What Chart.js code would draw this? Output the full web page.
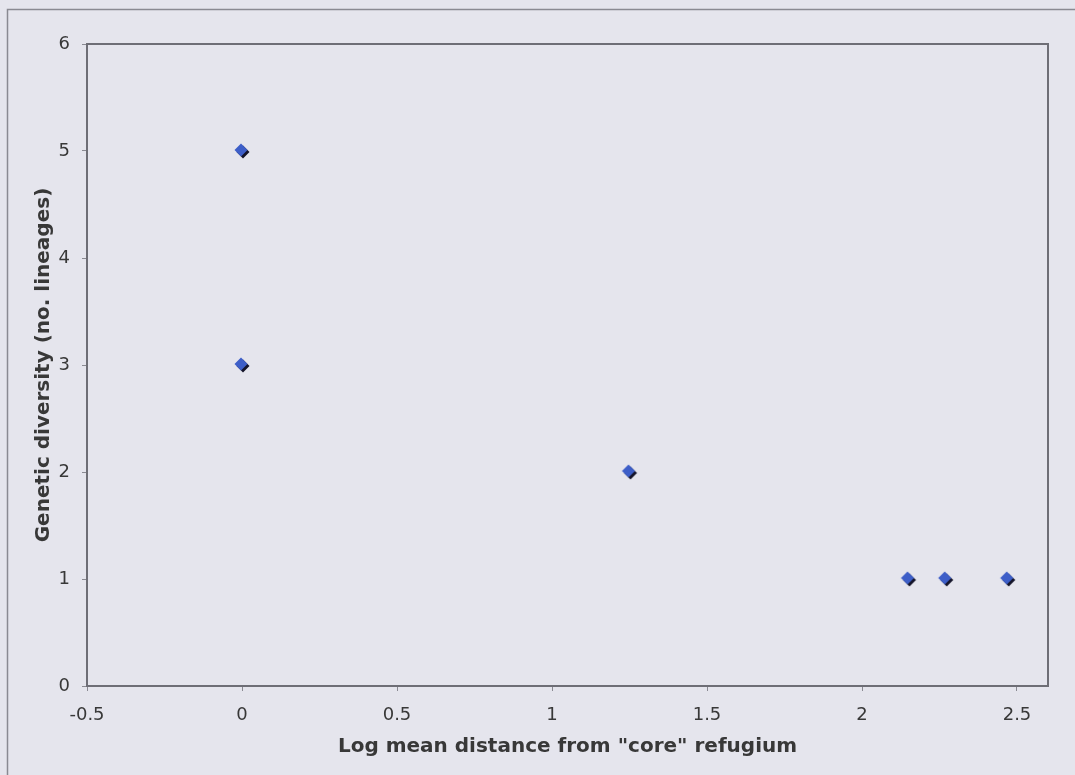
<!DOCTYPE html>
<html>
<head>
<meta charset="utf-8">
<script src="https://cdn.jsdelivr.net/npm/chart.js@4.4.1/dist/chart.umd.min.js"></script>
<style>
  html, body { margin: 0; padding: 0; background: #e5e5ed; }
  #wrap { width: 1075px; height: 775px; position: relative; }
</style>
</head>
<body>
<div id="wrap"><canvas id="c" width="1075" height="775"></canvas></div>
<script>
// Log mean distance from the core refugium vs. number of lineages
const logDistance = [0, 0, 1.25, 2.15, 2.27, 2.47];
const lineages    = [5, 3, 2, 1, 1, 1];
const xTickValues = [-0.5, 0, 0.5, 1, 1.5, 2, 2.5];
const yTickValues = [0, 1, 2, 3, 4, 5, 6];

const BG = '#e5e5ed';
const FONT = '"DejaVu Sans", Verdana, sans-serif';

// Diamond marker with a dark drop edge on the lower right
function makeMarker() {
  const c = document.createElement('canvas');
  c.width = 18; c.height = 18;
  const g = c.getContext('2d');
  function diamond(cx, cy, r, fill) {
    g.beginPath();
    g.moveTo(cx, cy - r);
    g.lineTo(cx + r, cy);
    g.lineTo(cx, cy + r);
    g.lineTo(cx - r, cy);
    g.closePath();
    g.fillStyle = fill;
    g.fill();
  }
  diamond(10, 10, 6.5, '#14142a');
  diamond(8, 8, 6.5, '#3d5ec8');
  return c;
}

const points = logDistance.map((x, i) => ({ x: x, y: lineages[i] }));

const framePlugin = {
  id: 'frame',
  beforeDraw(chart) {
    const ctx = chart.ctx;
    ctx.save();
    ctx.fillStyle = BG;
    ctx.fillRect(0, 0, chart.width, chart.height);
    ctx.strokeStyle = '#8a8a92';
    ctx.lineWidth = 1.5;
    ctx.strokeRect(7.5, 9.5, chart.width + 20, chart.height + 20);
    ctx.restore();
  },
  afterDatasetsDraw(chart) {
    const a = chart.chartArea;
    const ctx = chart.ctx;
    ctx.save();
    ctx.strokeStyle = '#6e6e76';
    ctx.lineWidth = 2;
    ctx.strokeRect(a.left, a.top, a.right - a.left, a.bottom - a.top);
    ctx.restore();
  }
};

const fmt = v => String(v);

new Chart(document.getElementById('c'), {
  type: 'scatter',
  data: {
    datasets: [{
      data: points,
      pointStyle: makeMarker(),
      pointRadius: 7,
      pointHoverRadius: 7
    }]
  },
  options: {
    responsive: false,
    animation: false,
    devicePixelRatio: 1,
    layout: { padding: { left: 32, top: 44, right: 27, bottom: 16 } },
    plugins: {
      legend: { display: false },
      tooltip: { enabled: false }
    },
    scales: {
      x: {
        type: 'linear',
        min: -0.5,
        max: 2.6,
        afterBuildTicks(scale) { scale.ticks = xTickValues.map(v => ({ value: v })); },
        afterFit(scale) { scale.height = 73; },
        border: { display: false },
        grid: { drawOnChartArea: false, drawTicks: true, tickLength: 5, color: '#8a8a92' },
        ticks: { color: '#383838', font: { family: FONT, size: 18 }, padding: 14, callback: fmt },
        title: {
          display: true,
          text: 'Log mean distance from "core" refugium',
          color: '#383838',
          font: { family: FONT, size: 20, weight: 'bold' },
          padding: { top: 0, bottom: 0 }
        }
      },
      y: {
        type: 'linear',
        min: 0,
        max: 6,
        afterBuildTicks(scale) { scale.ticks = yTickValues.map(v => ({ value: v })); },
        afterFit(scale) { scale.width = 55; },
        border: { display: false },
        grid: { drawOnChartArea: false, drawTicks: true, tickLength: 5, color: '#8a8a92' },
        ticks: { color: '#383838', font: { family: FONT, size: 18 }, padding: 12, callback: fmt },
        title: {
          display: true,
          text: 'Genetic diversity (no. lineages)',
          color: '#383838',
          font: { family: FONT, size: 20, weight: 'bold' },
          padding: { top: 0, bottom: 0 }
        }
      }
    }
  },
  plugins: [framePlugin]
});
</script>
</body>
</html>
